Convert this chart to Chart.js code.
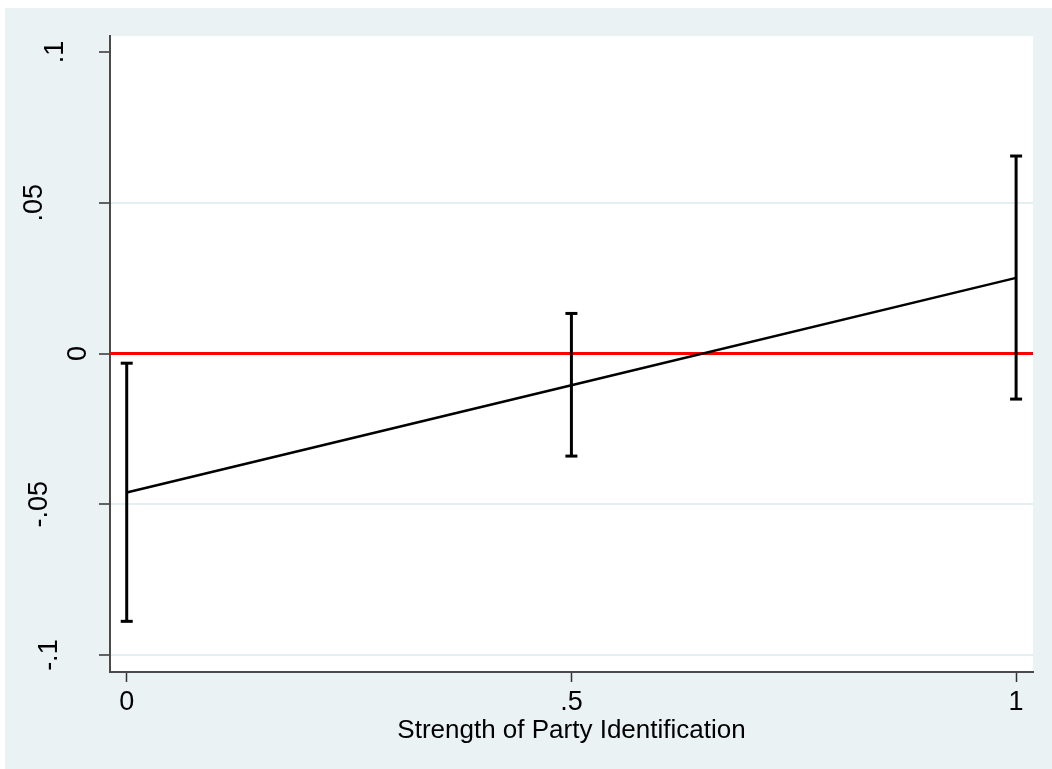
<!DOCTYPE html>
<html>
<head>
<meta charset="utf-8">
<script src="https://cdn.jsdelivr.net/npm/chart.js@4.4.1/dist/chart.umd.min.js"></script>
<style>
  html, body { margin: 0; padding: 0; background: #ffffff; }
  #wrap { width: 1052px; height: 769px; position: relative; }
  canvas { display: block; }
</style>
</head>
<body>
<div id="wrap"><canvas id="chart" width="1052" height="769"></canvas></div>
<script>
// Marginal effect by strength of party identification, with 95% intervals
const partyStrength  = [0, 0.5, 1];
const marginalEffect = [-0.0461, -0.0105, 0.0251];
const ciLower        = [-0.0888, -0.0340, -0.0151];
const ciUpper        = [-0.0032, 0.0133, 0.0655];

const referenceLevel = 0;

const xTickValues = [0, 0.5, 1];
const xTickLabels = ['0', '.5', '1'];
const yTickValues = [-0.1, -0.05, 0, 0.05, 0.1];
const yTickLabels = ['-.1', '-.05', '0', '.05', '.1'];

const xTitle = 'Strength of Party Identification';

// Axis extents (a little padding beyond the outer ticks)
const X_MIN = -0.0188, X_MAX = 1.019;
const Y_MIN = -0.1056, Y_MAX = 0.1053;

const FONT = "'Liberation Sans', Arial, Helvetica, sans-serif";
const OUTER_BG = '#EAF2F3';
const GRID = '#E5EEF0';

// Horizontal centres of the vertical y labels
const yLabelX = { '-.1': 50, '-.05': 40, '0': 79, '.05': 35, '.1': 56 };

const backgroundPlugin = {
  id: 'panels',
  beforeDraw(chart) {
    const { ctx, chartArea: a, width, height } = chart;
    ctx.save();
    ctx.fillStyle = '#ffffff';
    ctx.fillRect(0, 0, width, height);
    ctx.fillStyle = OUTER_BG;
    ctx.fillRect(5, 8, width - 5, height - 8);
    ctx.fillStyle = '#ffffff';
    ctx.fillRect(a.left, a.top, a.right - a.left, a.bottom - a.top);
    ctx.restore();
  }
};

const yLabelPlugin = {
  id: 'yLabels',
  afterDraw(chart) {
    const { ctx } = chart;
    const ys = chart.scales.y;
    ctx.save();
    ctx.fillStyle = '#000000';
    ctx.font = `27px ${FONT}`;
    ctx.textAlign = 'center';
    ctx.textBaseline = 'middle';
    yTickValues.forEach((v, i) => {
      const label = yTickLabels[i];
      const py = ys.getPixelForValue(v);
      ctx.save();
      ctx.translate(yLabelX[label], py);
      ctx.rotate(-Math.PI / 2);
      ctx.fillText(label, 0, 0);
      ctx.restore();
    });
    ctx.restore();
  }
};

const datasets = [];

// point estimates joined by a line
datasets.push({
  label: 'effect',
  data: partyStrength.map((x, i) => ({ x, y: marginalEffect[i] })),
  borderColor: '#000000',
  borderWidth: 2.5,
  pointRadius: 0,
  tension: 0,
  order: 2
});

// capped confidence intervals
partyStrength.forEach((x, i) => {
  datasets.push({
    label: 'ci' + i,
    data: [{ x, y: ciLower[i] }, { x, y: ciUpper[i] }],
    borderColor: '#000000',
    borderWidth: 3,
    pointStyle: 'line',
    pointRadius: 6,
    pointHoverRadius: 6,
    pointBorderWidth: 3,
    pointBorderColor: '#000000',
    order: 1
  });
});

// horizontal reference line at zero
datasets.push({
  label: 'zero',
  data: [{ x: X_MIN, y: referenceLevel }, { x: X_MAX, y: referenceLevel }],
  borderColor: '#FF0000',
  borderWidth: 3,
  pointRadius: 0,
  order: 5
});

new Chart(document.getElementById('chart'), {
  type: 'line',
  data: { datasets },
  plugins: [backgroundPlugin, yLabelPlugin],
  options: {
    responsive: false,
    animation: false,
    devicePixelRatio: 1,
    layout: { padding: { left: 5, top: 36, right: 19, bottom: 0 } },
    plugins: { legend: { display: false }, tooltip: { enabled: false } },
    events: [],
    scales: {
      x: {
        type: 'linear',
        min: X_MIN,
        max: X_MAX,
        afterBuildTicks(s) { s.ticks = xTickValues.map(v => ({ value: v })); },
        afterFit(s) { s.height = 97; },
        ticks: {
          autoSkip: false,
          maxRotation: 0,
          minRotation: 0,
          padding: 4,
          color: '#000000',
          font: { family: FONT, size: 27 },
          callback(v) { const k = xTickValues.indexOf(v); return k >= 0 ? xTickLabels[k] : ''; }
        },
        grid: {
          drawOnChartArea: false,
          drawTicks: true,
          tickLength: 10,
          tickColor: '#333333',
          tickWidth: 1.5
        },
        border: { display: true, color: '#4a4a4a', width: 2 },
        title: {
          display: true,
          text: xTitle,
          color: '#000000',
          font: { family: FONT, size: 26 },
          padding: { top: 0, bottom: 23 }
        }
      },
      y: {
        type: 'linear',
        min: Y_MIN,
        max: Y_MAX,
        afterBuildTicks(s) { s.ticks = yTickValues.map(v => ({ value: v })); },
        afterFit(s) { s.width = 105; },
        ticks: { display: false },
        grid: {
          drawOnChartArea: true,
          drawTicks: true,
          tickLength: 11,
          tickColor: '#333333',
          tickWidth: 1.5,
          lineWidth: 2,
          color(c) {
            const v = c.tick ? c.tick.value : null;
            return (v === 0.1 || v === 0) ? 'rgba(0,0,0,0)' : GRID;
          }
        },
        border: { display: true, color: '#4a4a4a', width: 2 }
      }
    }
  }
});
</script>
</body>
</html>
